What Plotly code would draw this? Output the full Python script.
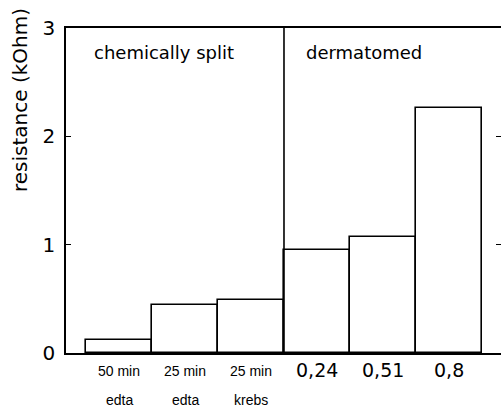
import plotly.graph_objects as go

# Data
chem_line1 = ["50 min", "25 min", "25 min"]
chem_line2 = ["edta", "edta", "krebs"]
chem_values = [0.12, 0.44, 0.49]
derm_labels = ["0,24", "0,51", "0,8"]
derm_values = [0.95, 1.07, 2.26]
group_names = ["chemically split", "dermatomed"]
y_ticks = [0, 1, 2, 3]

values = chem_values + derm_values
xs = list(range(len(values)))
n_chem = len(chem_values)

W, H = 501, 408
ml, mr, mt, mb = 66, 0, 28, 55
plot_h = H - mt - mb

def py(pix):
    return (H - mb - pix) / plot_h

FONT = "DejaVu Sans"

fig = go.Figure()
fig.add_trace(go.Bar(
    x=xs, y=values, width=1,
    marker=dict(color="white", line=dict(color="black", width=1.6)),
    showlegend=False, hoverinfo="skip",
))
# invisible trace for right-side ticks
fig.add_trace(go.Scatter(x=[xs[0]], y=[0], yaxis="y2", mode="markers",
                         marker=dict(opacity=0), showlegend=False, hoverinfo="skip"))

annotations = []
for i in range(n_chem):
    annotations.append(dict(x=xs[i], y=py(371), xref="x", yref="paper", text=chem_line1[i],
                            showarrow=False, font=dict(family="Liberation Sans", size=14, color="black"),
                            xanchor="center", yanchor="middle"))
    annotations.append(dict(x=xs[i], y=py(400), xref="x", yref="paper", text=chem_line2[i],
                            showarrow=False, font=dict(family="Liberation Sans", size=14, color="black"),
                            xanchor="center", yanchor="middle"))
for j, lab in enumerate(derm_labels):
    annotations.append(dict(x=xs[n_chem + j], y=py(370), xref="x", yref="paper", text=lab,
                            showarrow=False, font=dict(family=FONT, size=19, color="black"),
                            xanchor="center", yanchor="middle"))
# group names
annotations.append(dict(x=-0.41, y=py(53), xref="x", yref="paper", text=group_names[0],
                        showarrow=False, font=dict(family=FONT, size=18, color="black"),
                        xanchor="left", yanchor="middle"))
annotations.append(dict(x=n_chem - 0.5 + 0.3, y=py(53), xref="x", yref="paper", text=group_names[1],
                        showarrow=False, font=dict(family=FONT, size=18, color="black"),
                        xanchor="left", yanchor="middle"))
# y title
annotations.append(dict(x=(20 - ml) / (W - ml - mr), y=py(100), xref="paper", yref="paper",
                        text="resistance (kOhm)", textangle=-90, showarrow=False,
                        font=dict(family=FONT, size=20, color="black"),
                        xanchor="center", yanchor="middle"))

fig.update_layout(
    width=W, height=H,
    margin=dict(l=ml, r=mr, t=mt, b=mb, pad=0),
    paper_bgcolor="white", plot_bgcolor="white",
    bargap=0,
    xaxis=dict(range=[-0.803, 5.788], showgrid=False, zeroline=False,
               showline=True, linecolor="black", linewidth=1.6, mirror=True,
               showticklabels=False, ticks=""),
    yaxis=dict(range=[0, 3], tickvals=y_ticks, showgrid=False, zeroline=False,
               showline=True, linecolor="black", linewidth=1.6,
               ticks="inside", ticklen=5, tickwidth=1.3, tickcolor="black",
               tickfont=dict(family=FONT, size=20, color="black"), ticklabelstandoff=5),
    yaxis2=dict(range=[0, 3], tickvals=y_ticks[1:3], overlaying="y", side="right",
                showgrid=False, zeroline=False, showline=False, showticklabels=False,
                ticks="inside", ticklen=5, tickwidth=1.3, tickcolor="black"),
    shapes=[dict(type="line", xref="x", yref="y", x0=n_chem - 0.5, x1=n_chem - 0.5,
                 y0=0, y1=y_ticks[-1], line=dict(color="black", width=1.6))],
    annotations=annotations,
)

fig.write_html("out.html")
